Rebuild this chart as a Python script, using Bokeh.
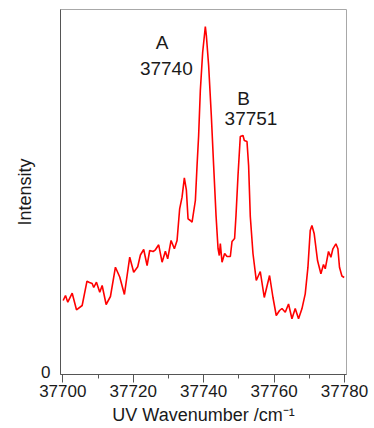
from bokeh.plotting import figure
from bokeh.models import FixedTicker, Label, Range1d
from bokeh.embed import file_html
from bokeh.resources import INLINE

# UV wavenumber (cm^-1) and intensity (arbitrary units)
wavenumber = [37700.11, 37700.77, 37701.42, 37702.67, 37703.89, 37705.50, 37706.87, 37707.58,
              37708.34, 37708.79, 37709.56, 37710.50, 37711.18, 37712.31, 37713.53, 37714.95,
              37716.17, 37717.50, 37719.01, 37720.14, 37721.28, 37722.04, 37722.98, 37723.94,
              37724.68, 37725.65, 37726.30, 37727.23, 37728.20, 37729.13, 37729.79, 37730.75,
              37731.69, 37732.45, 37733.19, 37733.87, 37734.52, 37735.09, 37735.57, 37736.23,
              37736.71, 37737.65, 37738.13, 37738.58, 37739.06, 37739.72, 37740.48, 37740.77,
              37741.42, 37742.18, 37742.84, 37743.52, 37744.09, 37744.45, 37744.74, 37745.22,
              37745.96, 37746.64, 37747.58, 37748.06, 37748.79, 37749.19, 37749.76, 37750.41,
              37751.18, 37751.55, 37752.31, 37752.77, 37753.25, 37754.01, 37754.95, 37756.08,
              37757.22, 37758.72, 37759.69, 37760.62, 37761.56, 37762.24, 37763.18, 37764.11,
              37765.08, 37766.01, 37766.95, 37767.91, 37768.85, 37769.62, 37770.27, 37770.75,
              37771.40, 37772.34, 37773.30, 37774.04, 37774.53, 37775.46, 37776.14, 37776.71,
              37777.56, 37778.13, 37778.58, 37779.26, 37779.91]
intensity = [71, 76, 69.3, 78.3, 61.7, 66, 90.3, 89,
             88, 84, 89.3, 79.3, 86, 67, 75, 104.3,
             94.5, 77, 114.3, 99.3, 104.7, 116.5, 122, 106,
             121, 120, 121.7, 126.7, 109.3, 120.3, 112.7, 131,
             122.7, 131, 162.7, 174.3, 193.7, 181.7, 152.7, 151,
             149.3, 171, 206, 236, 281, 319, 345, 336,
             306, 256, 206, 156, 123, 116, 128, 109.3,
             118, 115, 115, 130, 133, 156, 196, 235,
             236, 231, 230, 206, 155, 118, 91, 100,
             74, 96, 74, 56, 61, 63, 59.3, 67.5,
             52.7, 63, 52.7, 62.7, 77.7, 104.3, 141, 146,
             137.7, 111, 97.7, 107, 102.7, 120, 114.3, 122.7,
             127.7, 122.7, 104.3, 95.5, 94]

x_ticks = [37700, 37720, 37740, 37760, 37780]
x_minor_ticks = [37710, 37730, 37750, 37770]
y_ticks = [0]

peak_names = ["A", "B"]
peak_positions = ["37740", "37751"]

FONT = "Liberation Sans"
TEXT = "#1a1a1a"

p = figure(width=374, height=428, output_backend="svg", toolbar_location=None,
           x_range=Range1d(37699.35, 37780.57), y_range=Range1d(-3, 362),
           min_border_left=60, min_border_right=28, min_border_top=9, min_border_bottom=54)

p.line(wavenumber, intensity, line_color="#ff0000", line_width=1.6)

p.xgrid.visible = False
p.ygrid.visible = False
p.outline_line_color = "#a8a8a8"
p.outline_line_width = 1
p.background_fill_color = "white"
p.border_fill_color = "white"

xa = p.xaxis[0]
xa.ticker = FixedTicker(ticks=x_ticks, minor_ticks=x_minor_ticks)
xa.axis_label = "UV Wavenumber /cm\u207b\u00b9"
xa.axis_line_color = "#555555"
xa.major_tick_line_color = "#555555"
xa.minor_tick_line_color = "#555555"
xa.major_tick_out = 8
xa.major_tick_in = 0
xa.minor_tick_out = 4
xa.minor_tick_in = 0
xa.major_label_text_font = FONT
xa.major_label_text_font_size = "17px"
xa.major_label_text_color = TEXT
xa.major_label_standoff = 2
xa.axis_label_text_font = FONT
xa.axis_label_text_font_size = "18px"
xa.axis_label_text_font_style = "normal"
xa.axis_label_text_color = TEXT
xa.axis_label_standoff = 5

ya = p.yaxis[0]
ya.ticker = FixedTicker(ticks=y_ticks)
ya.minor_tick_line_color = None
ya.major_tick_line_color = None
ya.major_tick_out = 0
ya.major_tick_in = 0
ya.axis_line_color = "#555555"
ya.major_label_text_font = FONT
ya.major_label_text_font_size = "17px"
ya.major_label_text_color = TEXT
ya.major_label_standoff = 10
ya.axis_label = "Intensity"
ya.axis_label_text_font = FONT
ya.axis_label_text_font_size = "18px"
ya.axis_label_text_font_style = "normal"
ya.axis_label_text_color = TEXT
ya.axis_label_standoff = 3

label_specs = [
    (37728.2, 329, peak_names[0]),
    (37729.4, 303, peak_positions[0]),
    (37751.35, 273, peak_names[1]),
    (37753.45, 253, peak_positions[1]),
]
for lx, ly, txt in label_specs:
    p.add_layout(Label(x=lx, y=ly, text=txt, text_align="center", text_baseline="middle",
                       text_font=FONT, text_font_size="19px", text_color=TEXT))

open("out.html", "w").write(file_html(p, INLINE))
